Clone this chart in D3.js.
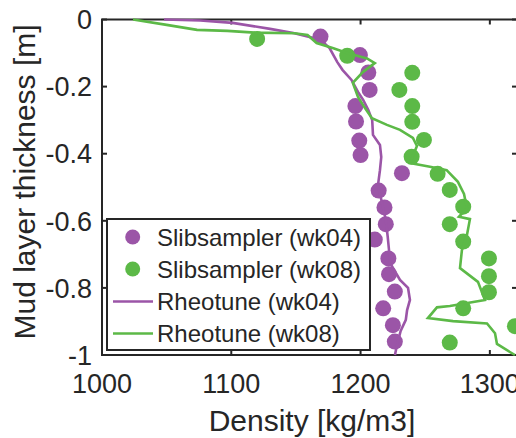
<!DOCTYPE html>
<html>
  <head>
    <meta charset="utf-8" />
    <title>Mud layer density</title>
    <script src="https://d3js.org/d3.v7.min.js"></script>
    <style>
      body { margin: 0; background: white; }
      text { font-family: "Liberation Sans", Arial, Helvetica, sans-serif; fill: #262626; }
    </style>
  </head>

  <body>
    <svg id="viz"></svg>

    <script>
        // Slibsampler samples
        var slib04Density = [1169, 1199.5, 1206, 1207, 1196, 1196.5, 1199, 1200, 1232, 1214,
                             1218.5, 1219.5, 1211, 1221.5, 1222, 1226.5, 1217.5, 1225, 1226.5];
        var slib04Depth = [-0.051, -0.106, -0.158, -0.210, -0.258, -0.304, -0.361, -0.404, -0.458, -0.510,
                           -0.560, -0.610, -0.656, -0.712, -0.759, -0.811, -0.861, -0.911, -0.960];

        var slib08Density = [1120, 1189.7, 1240, 1230, 1240, 1240, 1249, 1239.5, 1259.6, 1269,
                             1279.4, 1269, 1279.4, 1299.3, 1299.3, 1299.3, 1279.4, 1319.4, 1269];
        var slib08Depth = [-0.058, -0.108, -0.159, -0.210, -0.258, -0.305, -0.359, -0.409, -0.460, -0.508,
                           -0.558, -0.610, -0.662, -0.712, -0.765, -0.813, -0.861, -0.914, -0.963];

        // Rheotune profiles
        var rheo04Density = [1048, 1076, 1101, 1130, 1148, 1169, 1176, 1182, 1186, 1193,
                             1198, 1202, 1206, 1209, 1209.6, 1215, 1216, 1215, 1213.5, 1216.6,
                             1219.6, 1221, 1222, 1222.7, 1230.5, 1236.7, 1238.2, 1236, 1235, 1231,
                             1228, 1226.6];
        var rheo04Depth = [0, -0.003, -0.010, -0.028, -0.040, -0.060, -0.085, -0.127, -0.150, -0.180,
                           -0.216, -0.240, -0.270, -0.300, -0.344, -0.374, -0.410, -0.449, -0.493, -0.547,
                           -0.598, -0.648, -0.687, -0.725, -0.776, -0.800, -0.836, -0.866, -0.895, -0.928,
                           -0.973, -1.0];

        var rheo08Density = [1024, 1050, 1073.5, 1097, 1118, 1149, 1159, 1166, 1179, 1189.5,
                             1205, 1211, 1202, 1194, 1198, 1203.4, 1208.8, 1220.4, 1230.5, 1240.5,
                             1243.6, 1238.2, 1253.7, 1266.6, 1275.3, 1280, 1282.3, 1276.1, 1284.6, 1282.3,
                             1278.4, 1276.9, 1290.8, 1296.2, 1269.1, 1259.1, 1252.1, 1271.5, 1297.8, 1304,
                             1305.5, 1315.5, 1319.4];
        var rheo08Depth = [0, -0.016, -0.031, -0.034, -0.039, -0.041, -0.046, -0.070, -0.086, -0.100,
                           -0.116, -0.130, -0.156, -0.189, -0.231, -0.264, -0.294, -0.314, -0.329, -0.353,
                           -0.377, -0.428, -0.439, -0.449, -0.484, -0.520, -0.562, -0.588, -0.595, -0.642,
                           -0.687, -0.741, -0.782, -0.836, -0.854, -0.858, -0.890, -0.899, -0.906, -0.935,
                           -0.967, -0.991, -1.0];

        var xTicks = [1000, 1100, 1200, 1300];
        var yTicks = [0, -0.2, -0.4, -0.6, -0.8, -1];
        var legendLabels = ["Slibsampler (wk04)", "Slibsampler (wk08)", "Rheotune (wk04)", "Rheotune (wk08)"];

        var purple = "#9b55a7";
        var green = "#5cb947";

        var width = 516, height = 438;
        var plotLeft = 102, plotRight = 517, plotTop = 19.5, plotBottom = 355;

        var svg = d3.select("#viz")
            .attr("width", width)
            .attr("height", height);

        var x = d3.scaleLinear().domain([1000, 1321]).range([plotLeft, plotRight]);
        var y = d3.scaleLinear().domain([-1, 0]).range([plotBottom, plotTop]);

        function zip(a, b) {
            return a.map(function(v, i) { return [v, b[i]]; });
        }

        // axes box with inward ticks on all four sides
        var axes = svg.append("g");
        axes.append("rect")
            .attr("x", plotLeft).attr("y", plotTop)
            .attr("width", plotRight - plotLeft).attr("height", plotBottom - plotTop)
            .attr("fill", "none")
            .attr("stroke", "#262626")
            .attr("stroke-width", 2);

        var tickLen = 5;
        xTicks.forEach(function(t) {
            axes.append("line")
                .attr("x1", x(t)).attr("x2", x(t))
                .attr("y1", plotBottom).attr("y2", plotBottom - tickLen)
                .attr("stroke", "#262626").attr("stroke-width", 2);
            axes.append("line")
                .attr("x1", x(t)).attr("x2", x(t))
                .attr("y1", plotTop).attr("y2", plotTop + tickLen)
                .attr("stroke", "#262626").attr("stroke-width", 2);
            axes.append("text")
                .attr("x", x(t)).attr("y", 393)
                .attr("text-anchor", "middle")
                .style("font-size", "27px")
                .text(t);
        });
        yTicks.forEach(function(t) {
            axes.append("line")
                .attr("x1", plotLeft).attr("x2", plotLeft + tickLen)
                .attr("y1", y(t)).attr("y2", y(t))
                .attr("stroke", "#262626").attr("stroke-width", 2);
            axes.append("line")
                .attr("x1", plotRight).attr("x2", plotRight - tickLen)
                .attr("y1", y(t)).attr("y2", y(t))
                .attr("stroke", "#262626").attr("stroke-width", 2);
            axes.append("text")
                .attr("x", 92).attr("y", y(t))
                .attr("dy", "0.36em")
                .attr("text-anchor", "end")
                .style("font-size", "27px")
                .text(String(t));
        });

        axes.append("text")
            .attr("x", 312).attr("y", 431)
            .attr("text-anchor", "middle")
            .style("font-size", "30px")
            .text("Density [kg/m3]");

        axes.append("text")
            .attr("transform", "translate(35,182) rotate(-90)")
            .attr("text-anchor", "middle")
            .style("font-size", "30px")
            .text("Mud layer thickness [m]");

        // scatter samples
        var plot = svg.append("g");
        plot.selectAll("circle.s04")
            .data(zip(slib04Density, slib04Depth))
            .enter().append("circle")
            .attr("class", "s04")
            .attr("cx", function(d) { return x(d[0]); })
            .attr("cy", function(d) { return y(d[1]); })
            .attr("r", 8)
            .attr("fill", purple);

        plot.selectAll("circle.s08")
            .data(zip(slib08Density, slib08Depth))
            .enter().append("circle")
            .attr("class", "s08")
            .attr("cx", function(d) { return x(d[0]); })
            .attr("cy", function(d) { return y(d[1]); })
            .attr("r", 8)
            .attr("fill", green);

        var line = d3.line()
            .x(function(d) { return x(d[0]); })
            .y(function(d) { return y(d[1]); });

        plot.append("path")
            .datum(zip(rheo04Density, rheo04Depth))
            .attr("d", line)
            .attr("fill", "none")
            .attr("stroke", purple)
            .attr("stroke-width", 2.6);

        plot.append("path")
            .datum(zip(rheo08Density, rheo08Depth))
            .attr("d", line)
            .attr("fill", "none")
            .attr("stroke", green)
            .attr("stroke-width", 2.6);

        // legend
        var legend = svg.append("g");
        legend.append("rect")
            .attr("x", 107).attr("y", 219)
            .attr("width", 263).attr("height", 131)
            .attr("fill", "white")
            .attr("stroke", "#262626")
            .attr("stroke-width", 2);

        var rowY = [237, 269, 301.5, 333.5];
        var colors = [purple, green, purple, green];
        legendLabels.forEach(function(lbl, i) {
            if (i < 2) {
                legend.append("circle")
                    .attr("cx", 132.7).attr("cy", rowY[i])
                    .attr("r", 7.5)
                    .attr("fill", colors[i]);
            } else {
                legend.append("line")
                    .attr("x1", 113).attr("x2", 153)
                    .attr("y1", rowY[i]).attr("y2", rowY[i])
                    .attr("stroke", colors[i])
                    .attr("stroke-width", 2.6);
            }
            legend.append("text")
                .attr("x", 157).attr("y", rowY[i])
                .attr("dy", "0.36em")
                .style("font-size", "24px")
                .text(lbl);
        });
    </script>
  </body>
</html>
